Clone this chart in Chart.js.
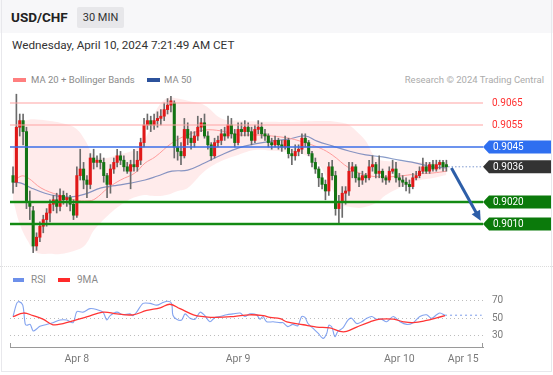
<!DOCTYPE html>
<html>
<head>
<meta charset="utf-8">
<script src="https://cdn.jsdelivr.net/npm/chart.js@4.4.1/dist/chart.umd.min.js"></script>
<style>
body { margin: 0; background: #fff; font-family: Roboto, "Liberation Sans", Arial, sans-serif; }
#frame { position: relative; width: 553px; height: 375px; overflow: hidden; background: #fff; }
#card { position: absolute; left: 1px; top: 0; width: 549px; height: 371px; border: 1px solid #e8e8ec; border-top: none; }
#head { position: absolute; left: 0; top: 0; width: 553px; height: 33px; background: #f7f7f9; }
.abs { position: absolute; white-space: nowrap; }
#pair { left: 11px; top: 9px; font-size: 13.5px; font-weight: bold; color: #222; line-height: 16px; }
#tf { left: 77px; top: 7px; width: 47px; height: 21px; background: #e7e7ea; border-radius: 2px;
      font-size: 11px; color: #333; line-height: 21px; text-align: center; }
#date { left: 12px; top: 37px; font-size: 11.7px; color: #333; line-height: 16px; }
.leg { font-size: 9.5px; color: #8a8a8a; line-height: 12px; }
.sw { position: absolute; height: 4px; }
#sep { position: absolute; left: 0; top: 266px; width: 553px; border-top: 1px dotted #dcdcdc; }
canvas { position: absolute; left: 0; }
</style>
</head>
<body>
<div id="frame">
  <div id="head"></div>
  <div id="card"></div>
  <div class="abs" id="pair">USD/CHF</div>
  <div class="abs" id="tf">30 MIN</div>
  <div class="abs" id="date">Wednesday, April 10, 2024 7:21:49 AM CET</div>

  <div class="sw" style="left:13px; top:78px; width:13px; background:#ff7f7f;"></div>
  <div class="abs leg" style="left:31px; top:74px;">MA 20 + Bollinger Bands</div>
  <div class="sw" style="left:147px; top:78px; width:13px; background:#2c529c;"></div>
  <div class="abs leg" style="left:164px; top:74px;">MA 50</div>
  <div class="abs leg" style="right:9px; top:74px; color:#ababab;">Research © 2024 Trading Central</div>

  <canvas id="price" width="553" height="170" style="top:88px;"></canvas>

  <div id="sep"></div>
  <div class="sw" style="left:13px; top:278px; width:11px; background:#6d90ea;"></div>
  <div class="abs leg" style="left:31px; top:274px; font-size:10px;">RSI</div>
  <div class="sw" style="left:58px; top:278px; width:12px; background:#ff2a2a;"></div>
  <div class="abs leg" style="left:77px; top:274px; font-size:10px;">9MA</div>

  <canvas id="rsi" width="553" height="90" style="top:285px;"></canvas>
</div>

<script>
// prices in pips (9036 = 0.9036), one 30 min candle per index
const candleOpen = [
  9032, 9029, 9054, 9057, 9052, 9020, 9016, 9000, 9004, 9009,
  9012, 9015, 9019, 9021, 9018, 9023, 9021, 9022, 9019, 9014,
  9032, 9035, 9030, 9028, 9040, 9038, 9039, 9038, 9032, 9028,
  9035, 9038, 9041, 9039, 9036, 9034, 9037, 9036, 9039, 9047,
  9055, 9057, 9055, 9057, 9058, 9059, 9062, 9064, 9065, 9045,
  9043, 9041, 9053, 9049, 9047, 9050, 9054, 9056, 9050, 9046,
  9041, 9047, 9048, 9051, 9050, 9055, 9051, 9047, 9053, 9052,
  9054, 9052, 9048, 9053, 9054, 9051, 9050, 9047, 9046, 9048,
  9046, 9045, 9048, 9042, 9041, 9043, 9044, 9049, 9047, 9042,
  9038, 9035, 9031, 9028, 9025, 9036, 9032, 9017, 9020, 9024,
  9025, 9034, 9036, 9031, 9030, 9032, 9031, 9036, 9037, 9033,
  9034, 9031, 9030, 9034, 9035, 9031, 9030, 9029, 9028, 9027,
  9031, 9032, 9034, 9036, 9034, 9037, 9035, 9037, 9038, 9037
];
const candleHigh = [
  9036, 9069, 9060, 9060, 9054, 9025, 9018, 9006, 9011, 9014,
  9017, 9021, 9023, 9024, 9026, 9025, 9024, 9023, 9021, 9036,
  9044, 9038, 9032, 9042, 9044, 9041, 9042, 9040, 9033, 9037,
  9040, 9044, 9043, 9041, 9038, 9039, 9044, 9043, 9049, 9058,
  9060, 9059, 9060, 9061, 9062, 9065, 9067, 9068, 9066, 9050,
  9047, 9058, 9056, 9052, 9052, 9059, 9058, 9060, 9052, 9047,
  9049, 9050, 9053, 9054, 9059, 9058, 9053, 9056, 9056, 9057,
  9056, 9054, 9055, 9057, 9056, 9053, 9051, 9049, 9050, 9049,
  9048, 9050, 9049, 9044, 9046, 9046, 9051, 9051, 9048, 9043,
  9040, 9036, 9033, 9030, 9038, 9039, 9034, 9023, 9027, 9027,
  9038, 9038, 9037, 9033, 9034, 9033, 9039, 9041, 9038, 9041,
  9035, 9032, 9036, 9039, 9038, 9033, 9032, 9031, 9030, 9033,
  9034, 9036, 9040, 9038, 9038, 9039, 9039, 9039, 9039, 9039
];
const candleLow = [
  9024, 9027, 9050, 9046, 9017, 9012, 8997, 8998, 9002, 9006,
  9009, 9011, 9016, 9015, 9016, 9019, 9018, 9016, 9012, 9013,
  9030, 9026, 9022, 9026, 9035, 9036, 9035, 9029, 9022, 9024,
  9033, 9036, 9037, 9034, 9033, 9026, 9034, 9034, 9037, 9045,
  9053, 9052, 9053, 9054, 9055, 9057, 9060, 9061, 9040, 9039,
  9037, 9040, 9046, 9044, 9045, 9048, 9052, 9049, 9044, 9039,
  9040, 9045, 9046, 9048, 9049, 9049, 9045, 9046, 9050, 9050,
  9050, 9046, 9047, 9051, 9049, 9048, 9045, 9044, 9045, 9044,
  9043, 9044, 9040, 9037, 9039, 9041, 9042, 9045, 9041, 9036,
  9033, 9027, 9026, 9021, 9023, 9030, 9014, 9010, 9013, 9019,
  9023, 9031, 9029, 9027, 9028, 9029, 9030, 9034, 9031, 9031,
  9029, 9028, 9029, 9033, 9029, 9027, 9027, 9025, 9024, 9026,
  9030, 9031, 9033, 9033, 9033, 9034, 9034, 9035, 9034, 9034
];
const candleClose = [
  9029, 9054, 9057, 9052, 9020, 9018, 9000, 9004, 9009, 9012,
  9015, 9019, 9021, 9018, 9023, 9021, 9022, 9019, 9014, 9032,
  9035, 9030, 9028, 9040, 9038, 9039, 9038, 9032, 9028, 9035,
  9038, 9041, 9039, 9036, 9034, 9037, 9036, 9039, 9047, 9055,
  9057, 9055, 9057, 9058, 9059, 9062, 9064, 9066, 9045, 9043,
  9041, 9053, 9049, 9047, 9050, 9054, 9056, 9050, 9046, 9041,
  9047, 9048, 9051, 9050, 9055, 9051, 9047, 9053, 9052, 9054,
  9052, 9048, 9053, 9054, 9051, 9050, 9047, 9046, 9048, 9046,
  9045, 9048, 9042, 9041, 9043, 9044, 9049, 9047, 9042, 9038,
  9035, 9031, 9028, 9025, 9036, 9032, 9017, 9020, 9024, 9025,
  9034, 9036, 9031, 9030, 9032, 9031, 9036, 9037, 9033, 9034,
  9031, 9030, 9034, 9035, 9031, 9030, 9029, 9028, 9027, 9031,
  9032, 9034, 9036, 9034, 9037, 9035, 9037, 9038, 9036, 9036
];

// Bollinger bands (MA 20 +/- 2 sd) read at these candle positions
const bandIdx = [0, 2, 4.5, 7, 11, 14, 18.5, 21.5, 24, 26, 28, 31, 34, 36, 39, 41.5, 43, 46, 49, 52,
  57, 62, 67, 72, 77, 82, 87, 91, 94, 96, 98, 100, 103, 105, 108, 111, 115, 120, 125, 129];
const bandUpper = [9044, 9055.5, 9057.3, 9057.5, 9056.8, 9056, 9053.6, 9048, 9041, 9040, 9040, 9041.4, 9042.5, 9043.6, 9048, 9056.4, 9062.7, 9067.3, 9067, 9066,
  9064, 9058, 9057, 9056.6, 9056.5, 9056.4, 9056.6, 9056.8, 9056.8, 9056.5, 9056, 9055, 9051, 9047.7, 9040, 9038.6, 9038.5, 9038.2, 9038, 9037.7];
const bandLower = [9021, 9010, 9002, 8997, 8996.5, 8996.4, 8998, 9000.5, 9007, 9010.5, 9013.5, 9017.5, 9020.5, 9022, 9023.2, 9022.8, 9022.7, 9023.3, 9025, 9026.4,
  9034, 9038.6, 9041.4, 9043.6, 9043.3, 9042.7, 9041.4, 9037, 9029, 9023, 9018.6, 9017.8, 9017.3, 9017.8, 9019.5, 9023.2, 9026.4, 9029.5, 9030.9, 9032.3];

const ma20Idx = [0, 2.4, 4.5, 8.3, 13.4, 18.5, 22.3, 24.4, 28.3, 32, 36.3, 39.3, 42.3, 47.3, 52, 57, 62, 67, 72, 77,
  82, 85.4, 91.4, 95, 100, 105, 110, 115, 120, 125, 129];
const ma20 = [9028.6, 9031.8, 9030.9, 9026.4, 9023.2, 9020.9, 9020.5, 9021.4, 9026.4, 9030, 9033.2, 9037.7, 9040.5, 9046.8, 9050.5, 9052.7, 9052.3, 9050.5, 9050.5, 9050,
  9049, 9047.7, 9044.5, 9041.4, 9035.5, 9032.3, 9031.4, 9031.8, 9032.7, 9033.2, 9034];

const ma50Idx = [0, 2.4, 5.4, 9.5, 13.4, 17.3, 21.4, 26.2, 31.3, 35, 39.3, 43, 47.3, 52, 57, 62, 67, 72, 77, 82,
  87, 90.5, 95, 100, 105, 110, 115, 120, 125, 129];
const ma50 = [9029, 9028.6, 9026.4, 9024, 9022.7, 9022.3, 9023.6, 9026.4, 9027.7, 9028.6, 9030, 9031.8, 9034, 9034.5, 9037.7, 9041.4, 9044.5, 9046.4, 9047.7, 9048.6,
  9050, 9047.7, 9045.5, 9043.2, 9041.4, 9040.5, 9039, 9037.7, 9035.9, 9035.5];

// support / resistance levels and last price
const resistLevels = [9065, 9055];
const pivotLevel = 9045;
const supportLevels = [9020, 9010];
const lastPrice = 9036;
const arrowFrom = [130.5, 9035.5];
const arrowTo = [139.2, 9011.5];

// RSI panel
const rsiIdx = [0, 1.1, 1.8, 2.9, 3.6, 4.1, 5.1, 6, 7.1, 8, 10, 11.9, 14, 16, 17.9, 19, 20.8, 22.9, 24.9, 26.8,
  27.9, 28.9, 30.9, 32.7, 34.8, 35.7, 36.8, 38.7, 40.8, 42.8, 44.6, 46.1, 47.2, 47.6, 48.7, 50.2, 51.2, 52.7, 54.2, 55.7,
  57.1, 58.6, 60.1, 61.6, 63.6, 65.5, 67.6, 69, 70.5, 72.5, 73.5, 74.4, 75.5, 77.4, 79.5, 80.4, 81.8, 83.3, 84.8, 85.9,
  86.9, 87.8, 89.3, 90.8, 92.3, 93.4, 94, 94.9, 95.8, 96.7, 98.2, 99.7, 100.8, 102.3, 103.8, 105.3, 106.8, 108.2, 109.7, 111.2,
  113.2, 115.2, 117.2, 119.1, 121.1, 123.1, 124.6, 126.1, 127.1, 128.6];
const rsiValues = [51.8, 67, 69, 65, 44, 42, 43, 35.5, 38, 41, 43, 45, 48, 48, 45, 57.6, 57, 61, 60, 57,
  48, 53, 57, 54, 55, 53, 57, 67, 67, 65, 68, 69.5, 67, 53.5, 49, 48, 55, 50, 49, 57,
  53, 46, 51, 52, 54, 55, 56, 52, 55, 54, 49, 52, 46, 46, 45, 45, 40.5, 43, 41.5, 52,
  51, 44, 38.5, 33, 27, 33, 42, 40, 29, 35, 39, 48, 50, 44, 46, 50, 52, 49, 49, 46,
  52, 46, 43, 45, 52, 54, 50, 54, 56, 53.5];
const rsiMaIdx = [0, 3.1, 6, 8.9, 11.9, 14.9, 17.9, 21.9, 26.8, 30.9, 35.7, 39.8, 43.8, 46.7, 49.7, 53.7, 56.6, 60.6, 65.6, 70.5,
  74.5, 76.5, 79.5, 81.5, 86.4, 90.4, 94.3, 97.3, 99.3, 102.3, 106.3, 109.2, 113.2, 116.2, 119.1, 123.1, 126.1, 128.6];
const rsiMa = [51.8, 56, 53, 49, 42.6, 44, 47, 51.5, 57, 55, 54, 59, 62, 66, 61, 54, 52, 51, 52, 54,
  53, 51, 49.5, 46, 42.6, 40, 39, 35, 35, 40, 46, 49, 49, 46, 45, 47.5, 50.5, 53];
const rsiProjIdx = [128.6, 139.5];
const rsiProj = [53.5, 53.5];
const rsiTicks = [30, 50, 70];

const xTickIdx = [19, 67, 115, 134];
const xTickLabels = ['Apr 8', 'Apr 9', 'Apr 10', 'Apr 15'];

// shared horizontal range so both panels line up
const xMin = -0.9;
const xMax = 139.9;

const FONT = 'Roboto, "Liberation Sans", Arial, sans-serif';
const pts = (xs, ys) => xs.map((x, i) => ({ x: x, y: ys[i] }));

// Draws level lines, price tags, the dotted last-price line and the arrow
const overlayPlugin = {
  id: 'overlay',
  afterDatasetsDraw(chart) {
    const { ctx, chartArea, scales: { x, y } } = chart;
    ctx.save();

    const hline = (v, color, width) => {
      const py = y.getPixelForValue(v);
      ctx.strokeStyle = color;
      ctx.lineWidth = width;
      ctx.beginPath();
      ctx.moveTo(chartArea.left, py);
      ctx.lineTo(chartArea.right, py);
      ctx.stroke();
    };
    resistLevels.forEach(v => hline(v, '#ffa3a3', 1));
    hline(pivotLevel, '#3b6fe8', 1.3);
    supportLevels.forEach(v => {
      hline(v, 'rgba(30,150,30,0.25)', 4);
      hline(v, '#138a13', 2);
    });

    // dotted line from last candle to the tag
    const ly = y.getPixelForValue(lastPrice);
    ctx.setLineDash([1.5, 2]);
    ctx.strokeStyle = '#7d97cf';
    ctx.lineWidth = 1;
    ctx.beginPath();
    ctx.moveTo(x.getPixelForValue(129.5), ly);
    ctx.lineTo(chartArea.right, ly);
    ctx.stroke();
    ctx.setLineDash([]);

    // arrow
    const ax0 = x.getPixelForValue(arrowFrom[0]), ay0 = y.getPixelForValue(arrowFrom[1]);
    const ax1 = x.getPixelForValue(arrowTo[0]), ay1 = y.getPixelForValue(arrowTo[1]);
    const ang = Math.atan2(ay1 - ay0, ax1 - ax0);
    const head = 11;
    ctx.strokeStyle = '#2d5ea8';
    ctx.fillStyle = '#2d5ea8';
    ctx.lineWidth = 3;
    ctx.beginPath();
    ctx.moveTo(ax0, ay0);
    ctx.lineTo(ax1 - Math.cos(ang) * head * 0.8, ay1 - Math.sin(ang) * head * 0.8);
    ctx.stroke();
    ctx.beginPath();
    ctx.moveTo(ax1, ay1);
    ctx.lineTo(ax1 - head * Math.cos(ang - 0.45), ay1 - head * Math.sin(ang - 0.45));
    ctx.lineTo(ax1 - head * Math.cos(ang + 0.45), ay1 - head * Math.sin(ang + 0.45));
    ctx.closePath();
    ctx.fill();

    // price tags on the right
    const fmt = v => (v / 10000).toFixed(4);
    ctx.font = '10px ' + FONT;
    ctx.textBaseline = 'middle';
    const tag = (v, bg) => {
      const py = y.getPixelForValue(v);
      const x0 = chartArea.right, h = 13, w = 68;
      ctx.fillStyle = bg;
      ctx.beginPath();
      ctx.moveTo(x0, py);
      ctx.lineTo(x0 + 6, py - h / 2);
      ctx.lineTo(x0 + w, py - h / 2);
      ctx.lineTo(x0 + w, py + h / 2);
      ctx.lineTo(x0 + 6, py + h / 2);
      ctx.closePath();
      ctx.fill();
      ctx.fillStyle = '#fff';
      ctx.fillText(fmt(v), x0 + 10, py + 0.5);
    };
    resistLevels.forEach(v => {
      ctx.fillStyle = '#ff3030';
      ctx.fillText(fmt(v), chartArea.right + 9, y.getPixelForValue(v) + 0.5);
    });
    tag(pivotLevel, '#2f6ff0');
    tag(lastPrice, '#333333');
    supportLevels.forEach(v => tag(v, '#0b7a0b'));
    ctx.restore();
  }
};

const bodyColors = candleClose.map((c, i) => c > candleOpen[i] ? '#e01818' : '#137313');

new Chart(document.getElementById('price'), {
  type: 'bar',
  data: {
    datasets: [
      { type: 'line', data: pts(bandIdx, bandUpper), borderWidth: 0, pointRadius: 0, tension: 0.4,
        backgroundColor: 'rgba(255,170,170,0.24)', fill: '+1', order: 6 },
      { type: 'line', data: pts(bandIdx, bandLower), borderWidth: 0, pointRadius: 0, tension: 0.4,
        fill: false, order: 6 },
      { type: 'line', data: pts(ma20Idx, ma20), borderColor: '#ff9b9b', borderWidth: 1, pointRadius: 0,
        tension: 0.4, fill: false, order: 4 },
      { type: 'line', data: pts(ma50Idx, ma50), borderColor: 'rgba(70,100,170,0.65)', borderWidth: 1.2, pointRadius: 0,
        tension: 0.4, fill: false, order: 4 },
      { data: candleHigh.map((h, i) => ({ x: i, y: [candleLow[i], h] })), backgroundColor: '#6b6b6b',
        barThickness: 1, grouped: false, order: 3 },
      { data: candleOpen.map((o, i) => ({ x: i, y: [o, candleClose[i]] })), backgroundColor: bodyColors,
        barThickness: 2.4, minBarLength: 1, grouped: false, order: 2 }
    ]
  },
  options: {
    responsive: false,
    animation: false,
    layout: { padding: { left: 10, right: 70, top: 0, bottom: 0 } },
    plugins: { legend: { display: false }, tooltip: { enabled: false } },
    scales: {
      x: { type: 'linear', min: xMin, max: xMax, offset: false, display: false },
      y: { type: 'linear', min: 8994.55, max: 9071.82, display: false }
    }
  },
  plugins: [overlayPlugin]
});

// small end ticks on the time axis
const axisEnds = {
  id: 'axisEnds',
  afterDraw(chart) {
    const { ctx, chartArea } = chart;
    ctx.save();
    ctx.strokeStyle = '#999';
    ctx.lineWidth = 1;
    [chartArea.left + 0.5, chartArea.right - 0.5].forEach(px => {
      ctx.beginPath();
      ctx.moveTo(px, chartArea.bottom - 4);
      ctx.lineTo(px, chartArea.bottom);
      ctx.stroke();
    });
    ctx.restore();
  }
};

new Chart(document.getElementById('rsi'), {
  type: 'line',
  data: {
    datasets: [
      { data: pts(rsiMaIdx, rsiMa), borderColor: '#ff3535', borderWidth: 1.3, pointRadius: 0, tension: 0.4, order: 1 },
      { data: pts(rsiIdx, rsiValues), borderColor: 'rgba(100,140,235,0.8)', borderWidth: 1.1, pointRadius: 0, tension: 0.3, order: 2 },
      { data: pts(rsiProjIdx, rsiProj), borderColor: '#7a9ae8', borderWidth: 1, borderDash: [2, 3], pointRadius: 0, order: 3 }
    ]
  },
  options: {
    responsive: false,
    animation: false,
    layout: { padding: { left: 10, right: 0, top: 5, bottom: 0 } },
    plugins: { legend: { display: false }, tooltip: { enabled: false } },
    scales: {
      x: {
        type: 'linear', min: xMin, max: xMax, offset: false,
        grid: { display: false, drawTicks: false },
        border: { display: true, color: '#9a9a9a', width: 1 },
        afterBuildTicks: s => { s.ticks = xTickIdx.map(v => ({ value: v })); },
        afterFit: s => { s.height = 28; s.paddingLeft = 0; s.paddingRight = 0; },
        ticks: {
          autoSkip: false, maxRotation: 0, padding: 6, color: '#7a7a7a',
          font: { size: 10.5, family: FONT },
          callback: v => xTickLabels[xTickIdx.indexOf(v)]
        }
      },
      y: {
        position: 'right', min: 17.2, max: 82.3,
        afterBuildTicks: s => { s.ticks = rsiTicks.map(v => ({ value: v })); },
        afterFit: s => { s.width = 70; s.paddingTop = 0; s.paddingBottom = 0; },
        grid: { color: '#bdbdbd', lineWidth: 1, drawTicks: false },
        border: { display: false, dash: [1, 3] },
        ticks: { padding: 9, color: '#7a7a7a', font: { size: 10, family: FONT } }
      }
    }
  },
  plugins: [axisEnds]
});
</script>
</body>
</html>
